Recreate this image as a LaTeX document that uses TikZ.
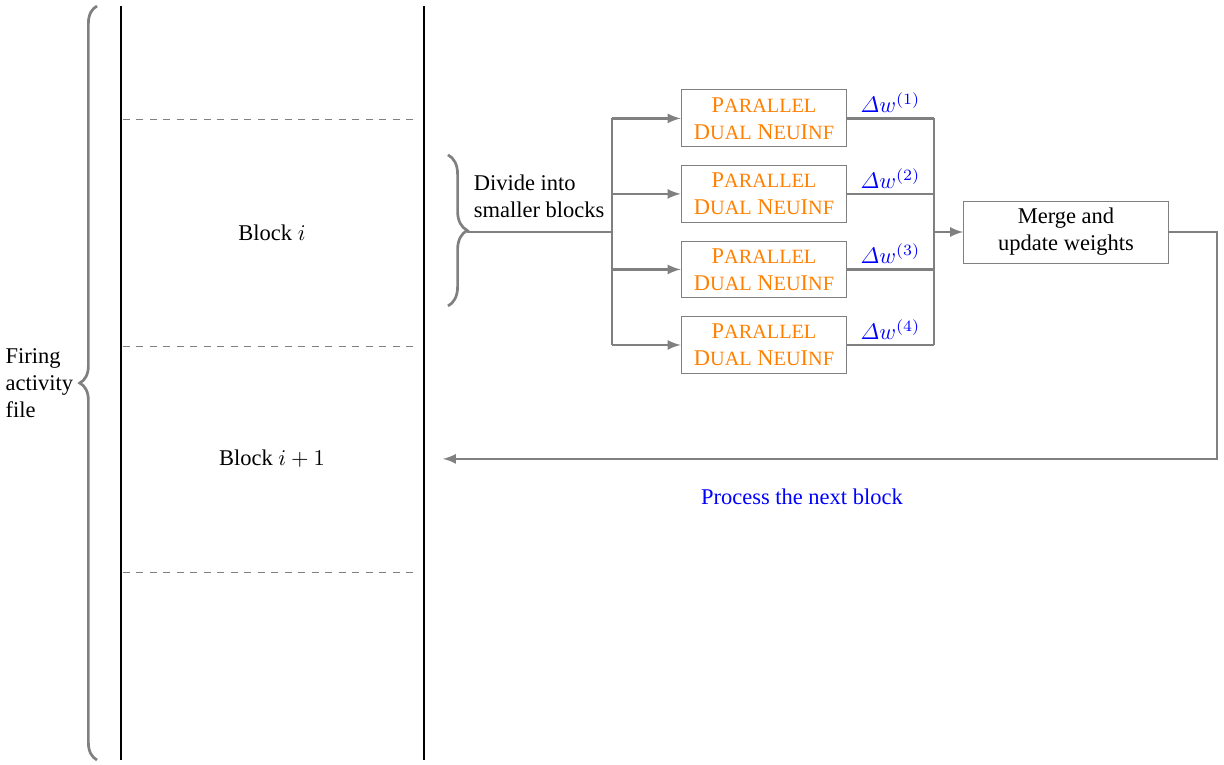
\documentclass[tikz,border=0pt]{standalone}
\usepackage{amsmath}
\usepackage{fontspec}
\setmainfont{Liberation Serif}
\usetikzlibrary{calc,arrows.meta,decorations.pathreplacing}
\newcommand{\fakesc}[2]{#1{\small #2}}
\newcommand{\pdn}{\fakesc{P}{ARALLEL}\\\fakesc{D}{UAL} \fakesc{N}{EU}\fakesc{I}{NF}}
\tikzset{
  wall/.style={thick,black},
  cut/.style={gray,dashed},
  pdnbox/.style={draw=gray,text=orange,align=center,minimum width=2.59cm,minimum height=0.89cm,inner sep=1pt},
  mergebox/.style={draw=gray,align=center,minimum width=3.2cm,minimum height=0.97cm,inner sep=1pt},
  link/.style={line width=1pt,gray},
  flow/.style={line width=1pt,gray,-latex},
  bracket/.style={line width=1.2pt,gray,decorate,decoration={brace,amplitude=#1}},
  delta/.style={text=blue,above,midway,inner sep=2pt}
}

\begin{document}
\begin{tikzpicture}
      \useasboundingbox (0,0) rectangle (19.125,-11.9375);
      % the file, cut into blocks
      \draw[wall] (1.89,-0.094) -- (1.89,-11.875);
      \draw[wall] (6.625,-0.094) -- (6.625,-11.875);
      \draw[cut] (1.92,-1.859) -- (6.53,-1.859);
      \draw[cut] (1.92,-5.406) -- (6.53,-5.406);
      \draw[cut] (1.92,-8.9375) -- (6.53,-8.9375);
      \node (blocki) at (4.25,-3.64) {Block $i$};
      \node (blocknext) at (4.25,-7.17) {Block $i+1$};
      \draw[bracket=0.27cm] (1.516,-11.875) -- (1.516,-0.094);
      \node[anchor=east,align=left,inner sep=2pt] (firing) at (1.22,-5.98) {Firing\\activity\\file};

      % split into smaller blocks
      \draw[bracket=0.3cm] (7.0,-2.42) -- (7.0,-4.78);
      \coordinate (divtip) at (7.3,-3.625);
      \node[anchor=west,align=left] (divide) at (7.28,-3.06) {Divide into\\smaller blocks};
      \coordinate (split) at (9.5625,-3.625);
      \coordinate (join) at (14.59,-3.625);

      \node[pdnbox] (pdn1) at (11.9375,-1.85) {\pdn};
      \node[pdnbox] (pdn2) at (11.9375,-3.03) {\pdn};
      \node[pdnbox] (pdn3) at (11.9375,-4.21) {\pdn};
      \node[pdnbox] (pdn4) at (11.9375,-5.39) {\pdn};
      \node[mergebox] (merge) at (16.656,-3.625) {Merge and\\update weights};

      \draw[link] (divtip) -- (split);
      \draw[link] (split |- pdn1) -- (split |- pdn4);
      \draw[flow] (split |- pdn1) -- (pdn1.west);
      \draw[flow] (split |- pdn2) -- (pdn2.west);
      \draw[flow] (split |- pdn3) -- (pdn3.west);
      \draw[flow] (split |- pdn4) -- (pdn4.west);

      \draw[link] (pdn1.east) -- (pdn1.east -| join) node[delta] {$\varDelta w^{(1)}$};
      \draw[link] (pdn2.east) -- (pdn2.east -| join) node[delta] {$\varDelta w^{(2)}$};
      \draw[link] (pdn3.east) -- (pdn3.east -| join) node[delta] {$\varDelta w^{(3)}$};
      \draw[link] (pdn4.east) -- (pdn4.east -| join) node[delta] {$\varDelta w^{(4)}$};
      \draw[link] (pdn1.east -| join) -- (pdn4.east -| join);
      \draw[flow] (join) -- (merge.west);

      % back to the file
      \coordinate (back) at (6.92,-7.17);
      \draw[flow] (merge.east) -- ++(0.75,0) |- (back);
      \node[text=blue] (next) at (12.53,-7.77) {Process the next block};
    \end{tikzpicture}
\end{document}
